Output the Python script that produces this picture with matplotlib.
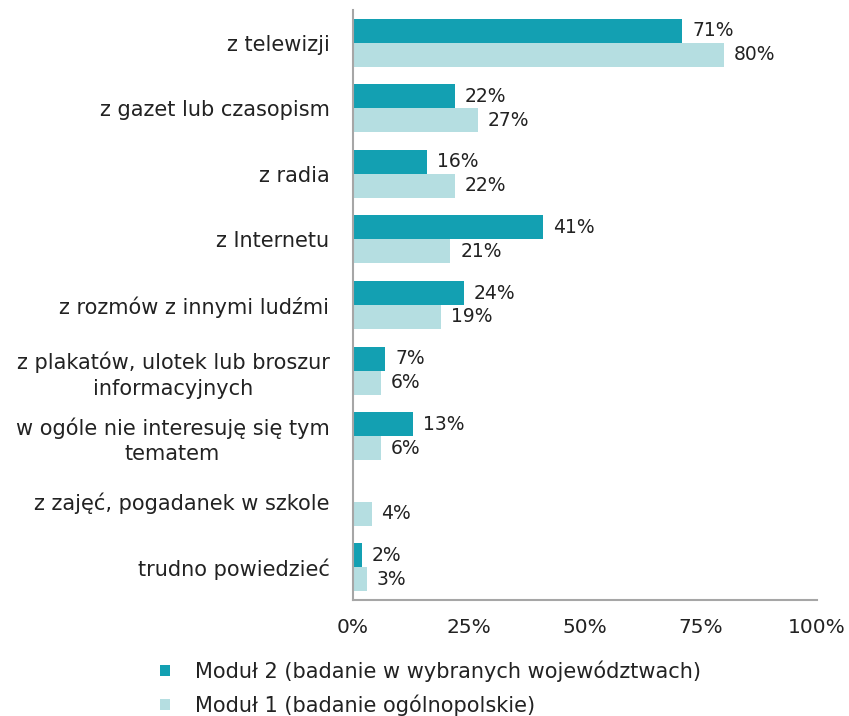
import matplotlib.pyplot as plt
import numpy as np

categories = [
    "z telewizji",
    "z gazet lub czasopism",
    "z radia",
    "z Internetu",
    "z rozmów z innymi ludźmi",
    "z plakatów, ulotek lub broszur\ninformacyjnych",
    "w ogóle nie interesuję się tym\ntematem",
    "z zajęć, pogadanek w szkole",
    "trudno powiedzieć",
]
modul2 = [71, 22, 16, 41, 24, 7, 13, None, 2]
modul1 = [80, 27, 22, 21, 19, 6, 6, 4, 3]
labels = ["Moduł 2 (badanie w wybranych województwach)",
          "Moduł 1 (badanie ogólnopolskie)"]
colors = ["#13A0B2", "#B5DEE1"]

plt.rcParams['font.family'] = ['DejaVu Sans']
fig = plt.figure(figsize=(8.49, 7.16), dpi=100)
ax = fig.add_axes([353 / 849, 1 - 600 / 716, 464 / 849, 590 / 716])

y = np.arange(len(categories))
h = 0.366
txt = '#222222'

for i, (v2, v1) in enumerate(zip(modul2, modul1)):
    if v2 is not None:
        ax.barh(y[i] - h / 2, v2, height=h, color=colors[0], edgecolor='none',
                label=labels[0] if i == 0 else None)
        ax.text(v2 + 2.1, y[i] - h / 2, f"{v2}%", va='center', ha='left',
                fontsize=13.5, color=txt)
    ax.barh(y[i] + h / 2, v1, height=h, color=colors[1], edgecolor='none',
            label=labels[1] if i == 0 else None)
    ax.text(v1 + 2.1, y[i] + h / 2, f"{v1}%", va='center', ha='left',
            fontsize=13.5, color=txt)

ax.set_ylim(len(categories) - 0.5, -0.5)
ax.set_xlim(0, 100)
ax.set_yticks(y)
ax.set_yticklabels(categories, fontsize=15, color=txt,
                   multialignment='center', linespacing=1.35)
ax.set_xticks([0, 25, 50, 75, 100])
ax.set_xticklabels(["0%", "25%", "50%", "75%", "100%"], fontsize=14.5,
                   color=txt)
ax.tick_params(axis='y', length=0, pad=17)
ax.tick_params(axis='x', length=0, pad=13)

for s in ['top', 'right']:
    ax.spines[s].set_visible(False)
for s in ['left', 'bottom']:
    ax.spines[s].set_color('#A6A6A6')
    ax.spines[s].set_linewidth(1.5)

fig.legend(loc='upper left', bbox_to_anchor=(152 / 849, 1 - 652 / 716),
           frameon=False, fontsize=15, handlelength=0.45, handleheight=0.45,
           handletextpad=1.2, labelspacing=0.6, borderaxespad=0,
           labelcolor=txt)

fig.savefig("out.png", dpi=100)
